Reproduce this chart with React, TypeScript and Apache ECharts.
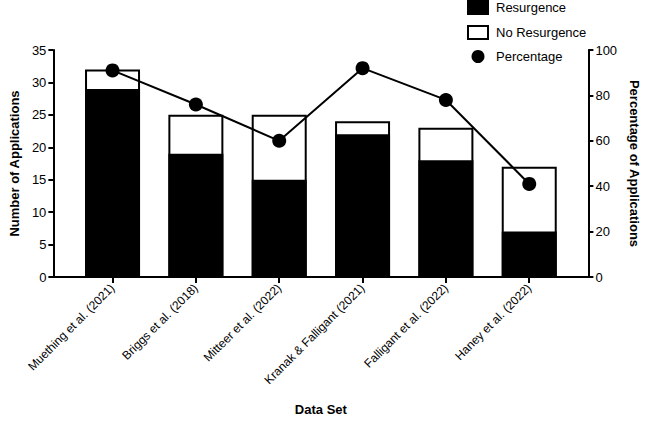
import React, { useEffect, useRef } from "react";
import * as echarts from "echarts";

const categories = [
  "Muething et al. (2021)",
  "Briggs et al. (2018)",
  "Mitteer et al. (2022)",
  "Kranak & Falligant (2021)",
  "Falligant et al. (2022)",
  "Haney et al. (2022)",
];
const resurgence = [29, 19, 15, 22, 18, 7];
const noResurgence = [3, 6, 10, 2, 5, 10];
const percentage = [91, 76, 60, 92, 78, 41];
const leftTicks = { min: 0, max: 35, interval: 5 };
const rightTicks = { min: 0, max: 100, interval: 20 };

const FONT = "'Liberation Sans', Arial, Helvetica, sans-serif";

export default function App() {
  const ref = useRef<HTMLDivElement>(null);
  useEffect(() => {
    if (!ref.current) return;
    const chart = echarts.init(ref.current, undefined, { renderer: "svg" });
    const idx = categories.map((_, i) => i);
    const totals = resurgence.map((v, i) => v + noResurgence[i]);
    const axisLine = { show: true, onZero: false, lineStyle: { color: "#000", width: 2 } };
    const label = { color: "#000", fontSize: 13, fontFamily: FONT };
    const nameStyle = { color: "#000", fontSize: 13, fontWeight: "bold", fontFamily: FONT };
    chart.setOption({
      animation: false,
      backgroundColor: "#fff",
      grid: { left: 42, right: 51, top: 50, bottom: 138, containLabel: false },
      legend: {
        orient: "vertical",
        left: 467,
        top: 0,
        padding: 0,
        itemWidth: 20,
        itemHeight: 13,
        itemGap: 10,
        textStyle: { ...label, padding: [0, 0, 0, 3] },
        data: [
          { name: "Resurgence", icon: "rect" },
          { name: "No Resurgence", icon: "rect" },
          { name: "Percentage", icon: "circle" },
        ],
      },
      xAxis: {
        type: "value",
        min: -0.71,
        max: 5.71,
        axisLine,
        axisTick: { show: true, customValues: idx, length: 6, lineStyle: { color: "#000", width: 2 } },
        axisLabel: {
          ...label,
          fontSize: 12,
          customValues: idx,
          rotate: 45,
          margin: 9,
          formatter: (v: number) => categories[Math.round(v)] ?? "",
        },
        splitLine: { show: false },
        name: "Data Set",
        nameLocation: "middle",
        nameGap: 126,
        nameTextStyle: nameStyle,
      },
      yAxis: [
        {
          type: "value",
          position: "left",
          ...leftTicks,
          axisLine,
          axisTick: { show: true, length: 5, lineStyle: { color: "#000", width: 2 } },
          axisLabel: { ...label, margin: 7 },
          splitLine: { show: false },
          name: "Number of Applications",
          nameLocation: "middle",
          nameRotate: 90,
          nameGap: 28,
          nameTextStyle: nameStyle,
        },
        {
          type: "value",
          position: "right",
          ...rightTicks,
          axisLine,
          axisTick: { show: true, length: 5, lineStyle: { color: "#000", width: 2 } },
          axisLabel: { ...label, margin: 7 },
          splitLine: { show: false },
          name: "Percentage of Applications",
          nameLocation: "middle",
          nameRotate: -90,
          nameGap: 37,
          nameTextStyle: nameStyle,
        },
      ],
      series: [
        {
          name: "No Resurgence",
          type: "bar",
          barWidth: 55,
          barGap: "-100%",
          data: totals.map((v, i) => [i, v]),
          itemStyle: { color: "#fff", borderColor: "#000", borderWidth: 2 },
        },
        {
          name: "Resurgence",
          type: "bar",
          barWidth: 55,
          barGap: "-100%",
          data: resurgence.map((v, i) => [i, v]),
          itemStyle: { color: "#000", borderColor: "#000", borderWidth: 2 },
        },
        {
          name: "Percentage",
          type: "line",
          yAxisIndex: 1,
          z: 5,
          data: percentage.map((v, i) => [i, v]),
          symbol: "circle",
          symbolSize: 14,
          lineStyle: { color: "#000", width: 2 },
          itemStyle: { color: "#000" },
        },
      ],
    });
    return () => chart.dispose();
  }, []);
  return (
    <div
      ref={ref}
      style={{ position: "absolute", left: 0, top: 0, width: 649, height: 421 }}
    />
  );
}
